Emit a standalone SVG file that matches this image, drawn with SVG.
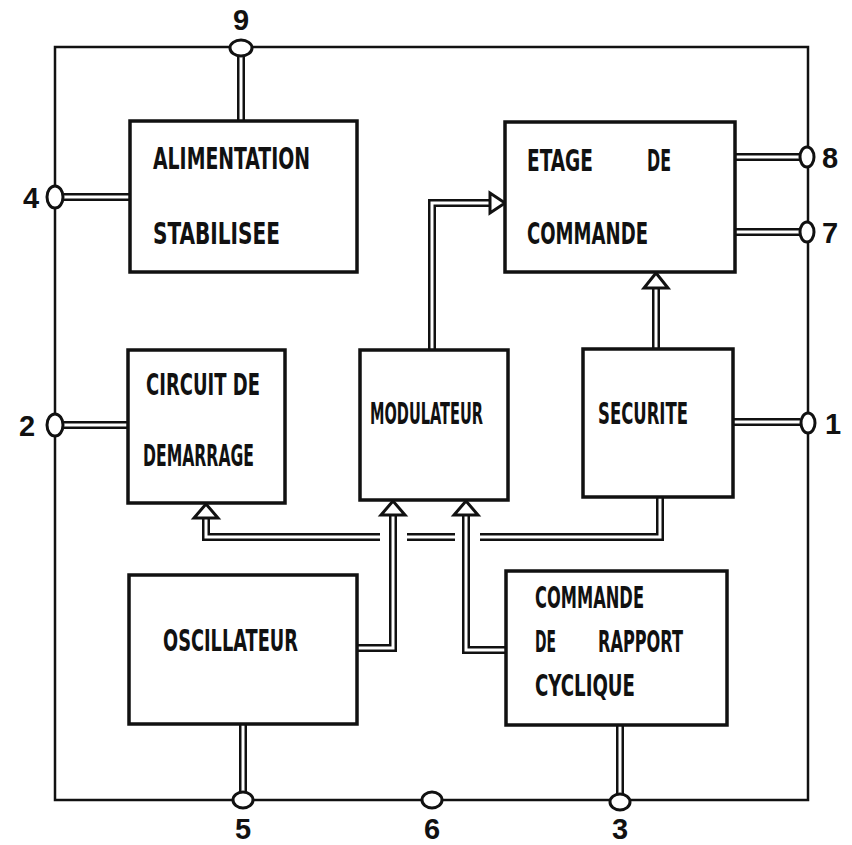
<svg xmlns="http://www.w3.org/2000/svg" width="852" height="845" viewBox="0 0 852 845">
<style>
.box{fill:#fff;stroke:#111;stroke-width:3.5}
.frame{fill:none;stroke:#111;stroke-width:2.5}
.dbo{fill:none;stroke:#111;stroke-width:8;stroke-linejoin:miter}
.dbi{fill:none;stroke:#fff;stroke-width:3;stroke-linejoin:miter}
.ah{fill:#fff;stroke:#111;stroke-width:3;stroke-linejoin:miter}
.term{fill:#fff;stroke:#111;stroke-width:3}
.lbl{font-family:"DejaVu Sans Condensed","DejaVu Sans",sans-serif;font-weight:bold;font-size:30px;fill:#111}
.num{font-family:"Liberation Sans",Arial,sans-serif;font-weight:bold;font-size:29px;fill:#111;text-anchor:middle}
</style>
<rect width="852" height="845" fill="#fff"/>
<g id="frame"><rect class="frame" x="55" y="47" width="753" height="753"/></g>
<g id="connectors">
<path class="dbo" d="M241,56V121 M64,197H130 M64,425H128 M735,157H799 M735,232H799 M733,422H800 M243,724V792 M620,725V794 M432,350V203H492 M656,349V287 M660,497V537H480 M455,537H407 M380,537H206V518 M357,648H393V515 M506,650H466V515"/>
<path class="dbi" d="M241,56V121 M64,197H130 M64,425H128 M735,157H799 M735,232H799 M733,422H800 M243,724V792 M620,725V794 M432,350V203H494 M656,349V285 M660,497V537H480 M455,537H407 M380,537H206V516 M357,648H393V513 M506,650H466V513"/>
<polygon class="ah" points="505,203 490,193 490,213"/>
<polygon class="ah" points="656,273 644,288 668,288"/>
<polygon class="ah" points="206,504 194,518 218,518"/>
<polygon class="ah" points="393,501 381,515 405,515"/>
<polygon class="ah" points="466,501 454,515 478,515"/>
</g>
<g id="n-alim"><rect class="box" x="130" y="121" width="227" height="151"/>
<text class="lbl" x="153" y="169" textLength="157" lengthAdjust="spacingAndGlyphs">ALIMENTATION</text>
<text class="lbl" x="153" y="244" textLength="127" lengthAdjust="spacingAndGlyphs">STABILISEE</text></g>
<g id="n-etage"><rect class="box" x="505" y="122" width="230" height="150"/>
<text class="lbl" x="527" y="171" textLength="66" lengthAdjust="spacingAndGlyphs">ETAGE</text>
<text class="lbl" x="647" y="171" textLength="24" lengthAdjust="spacingAndGlyphs">DE</text>
<text class="lbl" x="527" y="244" textLength="121" lengthAdjust="spacingAndGlyphs">COMMANDE</text></g>
<g id="n-circuit"><rect class="box" x="128" y="350" width="157" height="153"/>
<text class="lbl" x="146" y="395" textLength="114" lengthAdjust="spacingAndGlyphs">CIRCUIT DE</text>
<text class="lbl" x="143" y="466" textLength="111" lengthAdjust="spacingAndGlyphs">DEMARRAGE</text></g>
<g id="n-modulateur"><rect class="box" x="360" y="350" width="148" height="150"/>
<text class="lbl" x="370" y="424" textLength="113" lengthAdjust="spacingAndGlyphs">MODULATEUR</text></g>
<g id="n-securite"><rect class="box" x="583" y="349" width="150" height="148"/>
<text class="lbl" x="598" y="424" textLength="90" lengthAdjust="spacingAndGlyphs">SECURITE</text></g>
<g id="n-oscillateur"><rect class="box" x="129" y="575" width="228" height="149"/>
<text class="lbl" x="163" y="651" textLength="135" lengthAdjust="spacingAndGlyphs">OSCILLATEUR</text></g>
<g id="n-rapport"><rect class="box" x="506" y="571" width="221" height="154"/>
<text class="lbl" x="535" y="608" textLength="109" lengthAdjust="spacingAndGlyphs">COMMANDE</text>
<text class="lbl" x="535" y="652" textLength="21" lengthAdjust="spacingAndGlyphs">DE</text>
<text class="lbl" x="598" y="652" textLength="85" lengthAdjust="spacingAndGlyphs">RAPPORT</text>
<text class="lbl" x="535" y="696" textLength="100" lengthAdjust="spacingAndGlyphs">CYCLIQUE</text></g>
<g id="terminals">
<ellipse class="term" cx="241" cy="48" rx="11" ry="8"/>
<ellipse class="term" cx="55" cy="197" rx="8" ry="11"/>
<ellipse class="term" cx="55" cy="425" rx="8" ry="11"/>
<ellipse class="term" cx="807" cy="157" rx="7" ry="10"/>
<ellipse class="term" cx="807" cy="232" rx="7" ry="10"/>
<ellipse class="term" cx="808" cy="423" rx="7" ry="10"/>
<ellipse class="term" cx="243" cy="800" rx="10" ry="8"/>
<ellipse class="term" cx="432" cy="800" rx="10" ry="8"/>
<ellipse class="term" cx="620" cy="802" rx="10" ry="8"/>
<text class="num" x="241" y="30">9</text>
<text class="num" x="31" y="208">4</text>
<text class="num" x="27" y="436">2</text>
<text class="num" x="830" y="168">8</text>
<text class="num" x="830" y="243">7</text>
<text class="num" x="833" y="434">1</text>
<text class="num" x="243" y="839">5</text>
<text class="num" x="432" y="839">6</text>
<text class="num" x="620" y="839">3</text>
</g>
</svg>
